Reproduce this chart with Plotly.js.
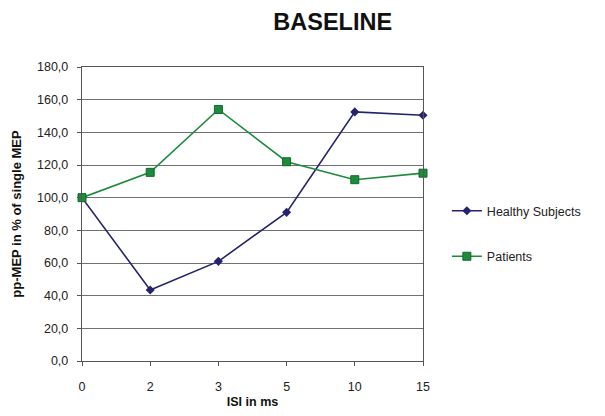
<!DOCTYPE html>
<html><head><meta charset="utf-8">
<script src="https://cdn.plot.ly/plotly-3.0.1.min.js"></script>
<style>body{margin:0;background:#fff}#c{width:605px;height:416px}</style>
</head><body><div id="c"></div>
<script>
const isi = ['0','2','3','5','10','15'];
const healthy = [100, 43.5, 61, 91, 152.5, 150.5];
const patients = [100, 115.5, 154, 122, 111, 115];
const yTicks = [0,20,40,60,80,100,120,140,160,180];

const F = 'Liberation Sans, Arial, sans-serif';
const traces = [
  {x: isi, y: healthy, name: 'Healthy Subjects', mode: 'lines+markers', cliponaxis: false,
   line: {color: '#26236e', width: 1.6}, marker: {symbol: 'diamond', size: 7, color: '#26236e'}, legend: 'legend'},
  {x: isi, y: patients, name: 'Patients', mode: 'lines+markers', cliponaxis: false,
   line: {color: '#1e8a3c', width: 1.6}, marker: {symbol: 'square', size: 8, color: '#1e8a3c', line: {color: '#12692a', width: 1}}, legend: 'legend2'}
];
const layout = {
  width: 605, height: 416,
  margin: {l: 82, r: 182, t: 67, b: 55},
  paper_bgcolor: '#fff', plot_bgcolor: '#fff',
  separators: ', ',
  font: {family: F, size: 12.5, color: '#222'},
  title: {text: '<b>BASELINE</b>', x: 0.55, xanchor: 'center', y: 0.948, yanchor: 'middle', font: {family: F, size: 23.5, color: '#111'}},
  xaxis: {type: 'category', range: [0, 5], showgrid: false, showline: true, linecolor: '#555', linewidth: 1.2,
    ticks: 'outside', ticklen: 4, tickcolor: '#555', mirror: true, ticklabelstandoff: 10,
    tickfont: {family: F, size: 12.5, color: '#222'},
    title: {text: '<b>ISI in ms</b>', standoff: 4, font: {family: F, size: 12.5, color: '#111'}}},
  yaxis: {range: [0, 180], tickvals: yTicks, tickformat: '.1f', showgrid: true, gridcolor: '#707070', gridwidth: 1,
    showline: true, linecolor: '#555', linewidth: 1.2, mirror: true, ticks: 'outside', ticklen: 4, tickcolor: '#555',
    ticklabelstandoff: 6,
    zeroline: false, tickfont: {family: F, size: 12.5, color: '#222'},
    title: {text: '<b>pp-MEP in % of single MEP</b>', standoff: 12, font: {family: F, size: 13, color: '#111'}}},
  legend: {x: 1.07, y: 0.51, xanchor: 'left', yanchor: 'middle', bgcolor: 'rgba(0,0,0,0)',
    font: {family: F, size: 12.5, color: '#222'}, itemwidth: 30},
  legend2: {x: 1.07, y: 0.355, xanchor: 'left', yanchor: 'middle', bgcolor: 'rgba(0,0,0,0)',
    font: {family: F, size: 12.5, color: '#222'}, itemwidth: 30},
  showlegend: true
};
Plotly.newPlot('c', traces, layout, {displayModeBar: false, staticPlot: true});
</script></body></html>
